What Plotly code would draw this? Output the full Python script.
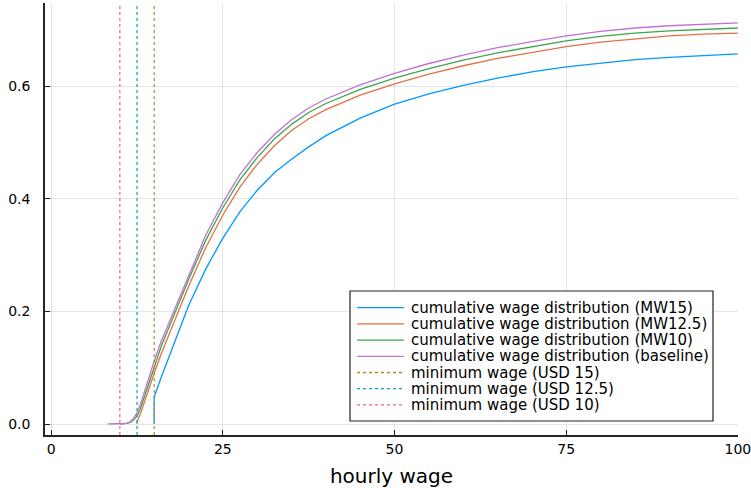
import plotly.graph_objects as go

# ---- data ----
x_mw15 = [15, 15, 16, 17, 18, 20, 22.5, 25, 27.5, 30, 32.5, 35, 37.5, 40, 45, 50, 55, 60, 65, 70, 75, 80, 85, 90, 95, 100]
y_mw15 = [0, 0.048, 0.082, 0.114, 0.146, 0.21, 0.275, 0.33, 0.377, 0.415, 0.446, 0.47, 0.492, 0.512, 0.543, 0.568, 0.586, 0.601, 0.614, 0.625, 0.634, 0.641, 0.647, 0.651, 0.654, 0.657]

x_mw125 = [12.5, 12.5, 13, 14, 15, 16, 17.5, 20, 22.5, 25, 27.5, 30, 32.5, 35, 37.5, 40, 45, 50, 55, 60, 65, 70, 75, 80, 85, 90, 95, 100]
y_mw125 = [0, 0.004, 0.018, 0.055, 0.09, 0.124, 0.17, 0.244, 0.313, 0.371, 0.421, 0.461, 0.494, 0.521, 0.542, 0.558, 0.584, 0.604, 0.621, 0.636, 0.649, 0.660, 0.670, 0.678, 0.684, 0.689, 0.692, 0.694]

x_mw10 = [10, 11, 11.5, 12, 12.5, 13, 14, 15, 16, 17.5, 20, 22.5, 25, 27.5, 30, 32.5, 35, 37.5, 40, 45, 50, 55, 60, 65, 70, 75, 80, 85, 90, 95, 100]
y_mw10 = [0, 0.001, 0.003, 0.007, 0.014, 0.027, 0.064, 0.102, 0.137, 0.182, 0.256, 0.326, 0.384, 0.434, 0.473, 0.506, 0.532, 0.553, 0.569, 0.594, 0.614, 0.631, 0.646, 0.659, 0.670, 0.680, 0.688, 0.694, 0.698, 0.701, 0.703]

x_base = [8.3, 10, 11, 11.5, 12, 12.5, 13, 14, 15, 16, 17.5, 20, 22.5, 25, 27.5, 30, 32.5, 35, 37.5, 40, 45, 50, 55, 60, 65, 70, 75, 80, 85, 90, 95, 100]
y_base = [0, 0, 0.001, 0.004, 0.01, 0.02, 0.035, 0.073, 0.112, 0.146, 0.19, 0.265, 0.335, 0.393, 0.443, 0.482, 0.514, 0.54, 0.561, 0.577, 0.602, 0.6226, 0.640, 0.655, 0.668, 0.679, 0.689, 0.697, 0.703, 0.707, 0.710, 0.712]

curve_names = ["cumulative wage distribution (MW15)",
               "cumulative wage distribution (MW12.5)",
               "cumulative wage distribution (MW10)",
               "cumulative wage distribution (baseline)"]

min_wages = [15, 12.5, 10]
min_wage_names = ["minimum wage (USD 15)", "minimum wage (USD 12.5)", "minimum wage (USD 10)"]

x_ticks = [0, 25, 50, 75, 100]
x_tick_text = ["0", "25", "50", "75", "100"]
y_ticks = [0.0, 0.2, 0.4, 0.6]
y_tick_text = ["0.0", "0.2", "0.4", "0.6"]

X_RANGE = [-0.9, 100.02]
Y_RANGE = [-0.0195, 0.7474]

# ---- styling ----
curve_colors = ["#009AFA", "#E36F47", "#3EA44E", "#C371D2"]
vline_colors = ["#AC8D18", "#00A9AD", "#ED5D92"]
FONT = "DejaVu Sans"
W, H = 751, 488
ML, MR, MT, MB = 45, 13, 3, 53
PW, PH = W - ML - MR, H - MT - MB


def px_x(p):
    return (p - ML) / PW


def px_y(p):
    return (H - MB - p) / PH


fig = go.Figure()

series = [(x_mw15, y_mw15), (x_mw125, y_mw125), (x_mw10, y_mw10), (x_base, y_base)]
for (xs, ys), name, c in zip(series, curve_names, curve_colors):
    fig.add_trace(go.Scatter(x=xs, y=ys, mode="lines", name=name, showlegend=False,
                             line=dict(color=c, width=1.3)))

for xv, name, c in zip(min_wages, min_wage_names, vline_colors):
    fig.add_trace(go.Scatter(x=[xv, xv], y=Y_RANGE, mode="lines", name=name, showlegend=False,
                             line=dict(color=c, width=1.2, dash="dot")))

# ---- legend box drawn in the style of the reference ----
legend_names = curve_names + min_wage_names
legend_colors = curve_colors + vline_colors
legend_dash = ["solid"] * 4 + ["dot"] * 3
shapes = [dict(type="rect", xref="paper", yref="paper",
               x0=px_x(350), x1=px_x(713), y0=px_y(421), y1=px_y(291),
               line=dict(color="#222222", width=1.2), fillcolor="white", layer="above")]
annotations = []
for i, (name, c, d) in enumerate(zip(legend_names, legend_colors, legend_dash)):
    yc = 307.7 + 16.2 * i
    shapes.append(dict(type="line", xref="paper", yref="paper",
                       x0=px_x(357), x1=px_x(404), y0=px_y(yc), y1=px_y(yc),
                       line=dict(color=c, width=1.3, dash=d), layer="above"))
    annotations.append(dict(xref="paper", yref="paper", x=px_x(410), y=px_y(yc),
                            xanchor="left", yanchor="middle", text=name, showarrow=False,
                            height=16, borderpad=0,
                            font=dict(family=FONT, size=15, color="black")))

fig.update_layout(
    width=W, height=H,
    margin=dict(l=ML, r=MR, t=MT, b=MB),
    paper_bgcolor="white", plot_bgcolor="white",
    font=dict(family=FONT, size=14, color="black"),
    showlegend=False,
    shapes=shapes, annotations=annotations,
    xaxis=dict(range=X_RANGE, tickvals=x_ticks, ticktext=x_tick_text, showgrid=True, automargin=False,
               gridcolor="rgba(0,0,0,0.1)", gridwidth=1, zeroline=False,
               showline=True, linecolor="rgba(0,0,0,0.85)", linewidth=1.5,
               ticks="inside", ticklen=5, tickcolor="rgba(0,0,0,0.85)",
               ticklabeloverflow="allow",
               title=dict(text="hourly wage", font=dict(size=20), standoff=13),
               tickfont=dict(size=14)),
    yaxis=dict(range=Y_RANGE, tickvals=y_ticks, ticktext=y_tick_text, showgrid=True, automargin=False,
               gridcolor="rgba(0,0,0,0.1)", gridwidth=1, zeroline=False,
               showline=True, linecolor="rgba(0,0,0,0.85)", linewidth=1.5,
               ticks="inside", ticklen=5, tickcolor="rgba(0,0,0,0.85)",
               ticklabelstandoff=10, tickfont=dict(size=14)),
)

fig.write_html("out.html", config={"displayModeBar": False},
               post_script="document.body.style.margin='0';")
